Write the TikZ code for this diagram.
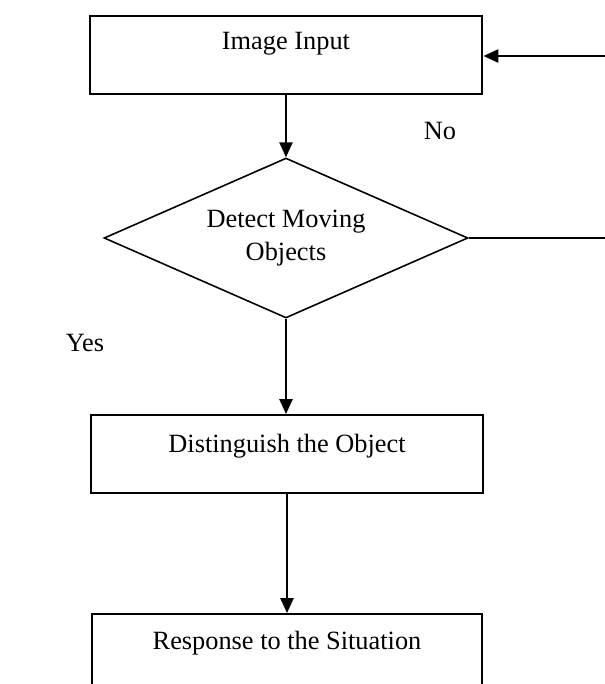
\documentclass[tikz,border=0pt]{standalone}
\usepackage{fontspec}
\setmainfont{Liberation Serif}
\usepackage{tikz}
\usetikzlibrary{arrows.meta,shapes.geometric}

\tikzset{
  stepbox/.style={draw,line width=1.1pt,minimum width=7.86cm,inner xsep=0pt,inner ysep=0pt,
    text height=0.68cm,text depth=0.88cm,anchor=north},
  choice/.style={draw,diamond,line width=0.9pt,aspect=2.3,minimum width=7.28cm,
    minimum height=3.2cm,inner sep=0pt,align=center},
  flow/.style={line width=1.1pt,-{Triangle[length=8.5pt,width=7.5pt]}}
}

\begin{document}
\begin{tikzpicture}[x=0.02cm,y=-0.02cm,font=\fontsize{15}{19}\selectfont]
        \clip (0,0) rectangle (605,684);
        \fill[white] (0,0) rectangle (605,684);
        % boxes of the flow
        \node[stepbox] (input) at (286,15) {Image Input};
        \node[choice] (detect) at (286,238) {Detect Moving\\Objects};
        \node[stepbox,minimum width=7.84cm,text height=0.76cm,text depth=0.8cm] (distinguish) at (287,414) {Distinguish the Object};
        \node[stepbox,minimum width=7.8cm,text height=0.72cm] (response) at (287,613) {Response to the Situation};
        % labels
        \node (no) at (440,131) {No};
        \node (yes) at (85,343) {Yes};
        % connectors
        \coordinate (loop1) at (640,238);
        \coordinate (loop2) at (640,56);
        \draw[flow] (input.south) -- (detect.north);
        \draw[flow] (detect.south) -- (detect.south |- distinguish.north);
        \draw[flow] (distinguish.south) -- (response.north);
        \draw[line width=0.9pt] (detect.east) -- (loop1) -- (loop2);
        \draw[flow] (loop2) -- (input.east |- loop2);
      \end{tikzpicture}
\end{document}
